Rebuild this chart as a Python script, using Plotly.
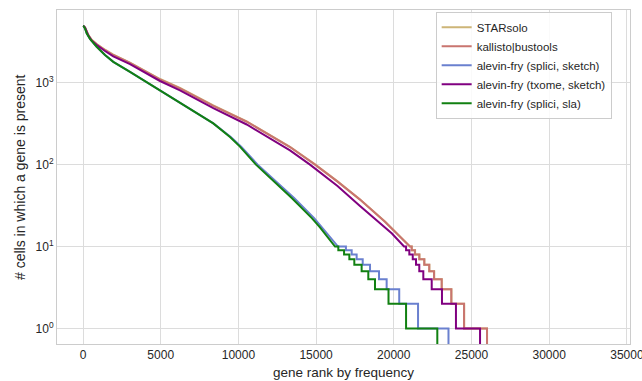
import plotly.graph_objects as go

# ---- data (gene rank, # cells in which gene is present) ----
kallisto_rank = [0, 40, 129, 238, 341, 560, 882, 1416, 1950, 3024, 4100, 4955, 6242, 8385, 10534,
                 12034, 13320, 14930, 16380, 17825, 19430, 21040]
kallisto_count = [4920, 4900, 4740, 4200, 3820, 3320, 2940, 2510, 2180, 1750, 1360, 1100, 855, 523, 334,
                  230, 164, 100, 62, 37.4, 20.1, 10]

star_rank = [0, 40, 129, 238, 341, 560, 882, 1416, 1950, 3024, 4100, 4955, 6242, 8385, 10534,
             12034, 13320, 14930, 16380, 17825, 19430, 21040]
star_count = [4920, 4900, 4750, 4220, 3840, 3340, 2960, 2530, 2200, 1765, 1372, 1110, 863, 528, 337,
              232, 165, 101, 62.5, 37.6, 20.2, 10]

txome_sketch_rank = [0, 40, 129, 238, 341, 560, 882, 1416, 1950, 3024, 4100, 4955, 6242, 8385, 10534,
                     12034, 13320, 14607, 16378, 17825, 19430, 19880, 20660]
txome_sketch_count = [4920, 4900, 4720, 4160, 3770, 3260, 2885, 2440, 2100, 1690, 1306, 1050, 807, 491, 309,
                      211, 149, 100, 54.8, 31.3, 17.3, 14.4, 10]

splici_sla_rank = [0, 40, 129, 238, 450, 663, 882, 1416, 1950, 3024, 3880, 4955, 6242, 7317, 8385,
                   9460, 10100, 11130, 12290, 13450, 14740, 15250, 16220]
splici_sla_count = [4920, 4890, 4610, 4010, 3420, 3030, 2750, 2180, 1800, 1360, 1080, 815, 577, 423, 319,
                    217, 166, 100, 63, 38.8, 22.1, 17.1, 10]

splici_sketch_rank = [0, 40, 129, 238, 450, 663, 882, 1416, 1950, 3024, 3880, 4955, 6242, 7317, 8385,
                      9510, 10180, 11240, 12420, 13600, 14890, 15400, 16410]
splici_sketch_count = [4920, 4890, 4610, 4010, 3420, 3030, 2750, 2180, 1800, 1360, 1080, 815, 577, 423, 319,
                       217, 166, 100, 63, 38.8, 22.1, 17.1, 10]

# stair-step tail: count levels and the rank at which each level ends
step_levels = [10, 9, 8, 7, 6, 5, 4, 3, 2, 1, 0]
star_step_rank = [21160, 21370, 21650, 21970, 22290, 22600, 23090, 23710, 24530, 26000]
kallisto_step_rank = [21150, 21360, 21640, 21960, 22280, 22590, 23080, 23700, 24520, 26000]
splici_sketch_step_rank = [16920, 17290, 17610, 18000, 18470, 19050, 19540, 20350, 21560, 23520]
txome_sketch_step_rank = [20790, 21000, 21220, 21430, 21640, 21900, 22440, 23100, 24000, 25550]
splici_sla_step_rank = [16430, 16800, 17140, 17460, 17930, 18360, 18790, 19660, 20790, 22800]

names = ["STARsolo", "kallisto|bustools", "alevin-fry (splici, sketch)",
         "alevin-fry (txome, sketch)", "alevin-fry (splici, sla)"]
colors = ["#cdb577", "#c9756f", "#6a80cf", "#800080", "#118011"]

series = [
    (star_rank, star_count, star_step_rank),
    (kallisto_rank, kallisto_count, kallisto_step_rank),
    (splici_sketch_rank, splici_sketch_count, splici_sketch_step_rank),
    (txome_sketch_rank, txome_sketch_count, txome_sketch_step_rank),
    (splici_sla_rank, splici_sla_count, splici_sla_step_rank),
]

ZERO_ON_LOG = 1e-3  # count 0 falls off the bottom of a log axis


def build_path(rank, count, step_rank):
    xs, ys = list(rank), list(count)
    for i, r in enumerate(step_rank):
        lvl = step_levels[i]
        nxt = step_levels[i + 1]
        xs += [r, r]
        ys += [lvl, nxt if nxt > 0 else ZERO_ON_LOG]
    return xs, ys


fig = go.Figure()
for (r, c, s), name, col in zip(series, names, colors):
    xs, ys = build_path(r, c, s)
    fig.add_trace(go.Scatter(x=xs, y=ys, mode="lines", name=name,
                             line=dict(color=col, width=2)))

font_fam = "Arial, Liberation Sans, sans-serif"
grid = "#dcdcdc"
fig.update_layout(
    width=642, height=381,
    margin=dict(l=57, r=12, t=10, b=37),
    paper_bgcolor="white", plot_bgcolor="white",
    font=dict(family=font_fam, size=12, color="#262626"),
    showlegend=True,
    legend=dict(x=0.968, y=0.995, xanchor="right", yanchor="top",
                bgcolor="rgba(255,255,255,0.85)", bordercolor="#cccccc", borderwidth=1,
                font=dict(size=11.5, color="#262626"), tracegroupgap=0,
                itemwidth=30),
    annotations=[
        dict(text="gene rank by frequency", xref="paper", yref="paper",
             x=0.5, y=-0.084, xanchor="center", yanchor="middle",
             showarrow=False, font=dict(size=13.5)),
        dict(text="# cells in which a gene is present", xref="paper", yref="paper",
             x=-0.0646, y=0.5, xanchor="center", yanchor="middle", textangle=-90,
             showarrow=False, font=dict(size=14)),
    ],
)
fig.update_xaxes(
    range=[-1673, 35200], tickmode="array",
    tickvals=[0, 5000, 10000, 15000, 20000, 25000, 30000, 35000],
    ticktext=["0", "5000", "10000", "15000", "20000", "25000", "30000", "35000"],
    showgrid=True, gridcolor=grid, gridwidth=1, zeroline=False,
    showline=True, linecolor="#cccccc", linewidth=1, mirror=True,
    ticks="", automargin=False, tickfont=dict(size=12), ticklabeloverflow="allow",
)
fig.update_yaxes(
    type="log", range=[-0.19, 3.888], tickmode="array",
    tickvals=[1, 10, 100, 1000],
    ticktext=["10<sup>0</sup>", "10<sup>1</sup>", "10<sup>2</sup>", "10<sup>3</sup>"],
    showgrid=True, gridcolor=grid, gridwidth=1, zeroline=False,
    showline=True, linecolor="#cccccc", linewidth=1, mirror=True,
    ticks="", automargin=False, tickfont=dict(size=12),
)

fig.write_html("out.html", config={"displayModeBar": False},
               post_script="document.body.style.margin='0px';document.body.style.overflow='hidden';")
